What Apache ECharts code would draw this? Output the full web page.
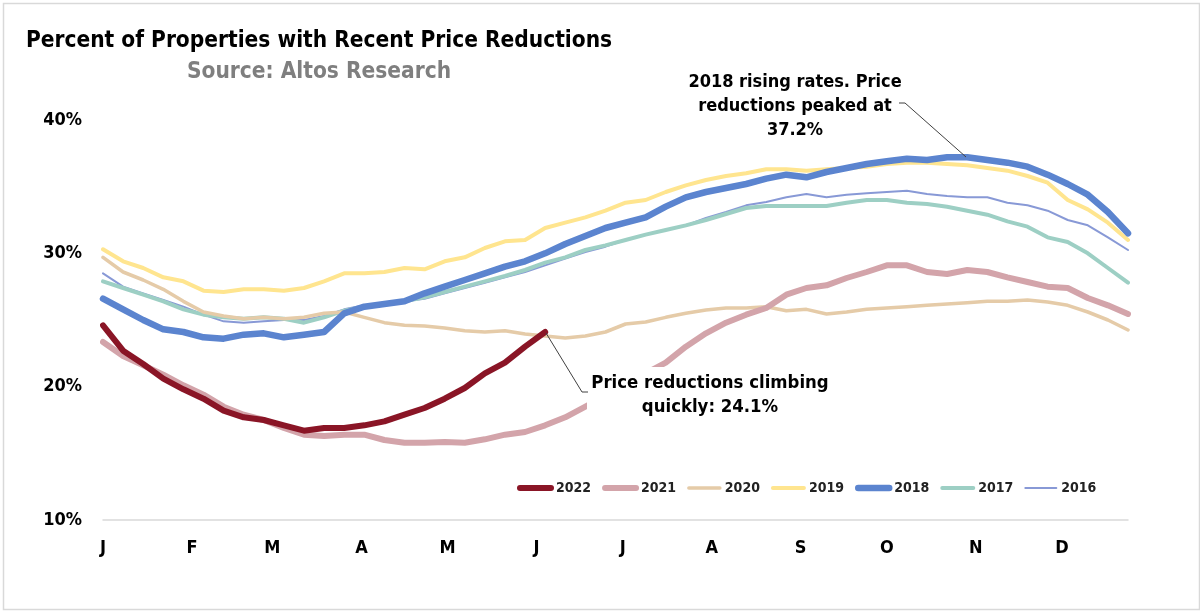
<!DOCTYPE html>
<html>
<head>
<meta charset="utf-8">
<script src="https://cdn.jsdelivr.net/npm/echarts@6/dist/echarts.min.js"></script>
<style>
  html, body { margin: 0; padding: 0; background: #fff; }
  #chart { width: 1200px; height: 611px; }
</style>
</head>
<body>
<div id="chart"></div>
<script>
// weekly values, week 0 = first week of January
const years = ['2022', '2021', '2020', '2019', '2018', '2017', '2016'];

const y2022 = [24.6, 22.7, 21.7, 20.6, 19.8, 19.1, 18.2, 17.7, 17.5, 17.1, 16.7, 16.9, 16.9, 17.1,
    17.4, 17.9, 18.4, 19.1, 19.9, 21.0, 21.8, 23.0, 24.1];
const y2021 = [23.35, 22.3, 21.6, 20.9, 20.1, 19.4, 18.5, 17.9, 17.5, 16.9, 16.4, 16.3, 16.4, 16.4,
    16.0, 15.8, 15.8, 15.85, 15.8, 16.05, 16.4, 16.6, 17.1, 17.7, 18.5, 19.3, 20.1, 21.0, 21.8,
    23.0, 24.0, 24.8, 25.4, 25.9, 26.9, 27.4, 27.6, 28.15, 28.6, 29.1, 29.1, 28.6, 28.45, 28.75,
    28.6, 28.2, 27.85, 27.5, 27.4, 26.65, 26.1, 25.45];
const y2020 = [29.7, 28.6, 28.0, 27.3, 26.4, 25.6, 25.3, 25.1, 25.2, 25.1, 25.2, 25.5, 25.6, 25.2,
    24.8, 24.6, 24.55, 24.4, 24.2, 24.1, 24.2, 23.95, 23.8, 23.65, 23.8, 24.1, 24.7, 24.85, 25.2,
    25.5, 25.75, 25.9, 25.9, 26.0, 25.7, 25.8, 25.45, 25.6, 25.8, 25.9, 26.0, 26.1, 26.2, 26.3,
    26.4, 26.4, 26.5, 26.35, 26.1, 25.6, 25.0, 24.25];
const y2019 = [30.3, 29.4, 28.9, 28.2, 27.9, 27.2, 27.1, 27.3, 27.3, 27.2, 27.4, 27.9, 28.5, 28.5,
    28.6, 28.9, 28.8, 29.4, 29.7, 30.4, 30.9, 31.0, 31.9, 32.3, 32.7, 33.2, 33.8, 34.0, 34.6,
    35.1, 35.5, 35.8, 36.0, 36.3, 36.3, 36.2, 36.3, 36.4, 36.5, 36.7, 36.8, 36.8, 36.7, 36.6,
    36.4, 36.2, 35.8, 35.3, 34.0, 33.3, 32.3, 31.0];
const y2018 = [26.6, 25.8, 25.0, 24.3, 24.1, 23.7, 23.6, 23.9, 24.0, 23.7, 23.9, 24.1, 25.5, 26.0,
    26.2, 26.4, 27.0, 27.5, 28.0, 28.5, 29.0, 29.4, 30.0, 30.7, 31.3, 31.9, 32.3, 32.7, 33.5,
    34.2, 34.6, 34.9, 35.2, 35.6, 35.9, 35.7, 36.1, 36.4, 36.7, 36.9, 37.1, 37.0, 37.2, 37.2,
    37.0, 36.8, 36.5, 35.9, 35.2, 34.4, 33.1, 31.5];
const y2017 = [27.9, 27.4, 26.9, 26.4, 25.8, 25.4, 25.2, 25.1, 25.2, 25.1, 24.8, 25.2, 25.7, 26.0,
    26.2, 26.4, 26.7, 27.1, 27.5, 27.9, 28.3, 28.75, 29.3, 29.7, 30.25, 30.6, 31.0, 31.4, 31.75,
    32.1, 32.5, 32.95, 33.4, 33.55, 33.55, 33.55, 33.55, 33.8, 34.0, 34.0, 33.8, 33.7, 33.5, 33.2,
    32.9, 32.4, 32.0, 31.2, 30.85, 30.0, 28.9, 27.8];
const y2016 = [28.5, 27.5, 27.0, 26.5, 26.0, 25.4, 24.9, 24.8, 24.9, 25.0, 25.0, 25.3, 25.8, 26.1,
    26.2, 26.4, 26.6, 27.0, 27.4, 27.8, 28.2, 28.6, 29.1, 29.6, 30.1, 30.5, 31.0, 31.4, 31.75,
    32.1, 32.65, 33.1, 33.6, 33.85, 34.2, 34.45, 34.2, 34.4, 34.5, 34.6, 34.7, 34.45, 34.3, 34.2,
    34.2, 33.8, 33.6, 33.2, 32.5, 32.1, 31.2, 30.25];

// month starts in weeks and their labels
const monthWeeks = [0, 4.43, 8.43, 12.86, 17.14, 21.57, 25.86, 30.29, 34.71, 39, 43.43, 47.71];
const monthLabels = ['J', 'F', 'M', 'A', 'M', 'J', 'J', 'A', 'S', 'O', 'N', 'D'];
const yTicks = [10, 20, 30, 40];

const FONT = "'Liberation Sans Narrow', 'DejaVu Sans Condensed', 'Liberation Sans', sans-serif";

function pts(arr) {
    return arr.map((v, i) => [i, v]);
}

const styles = {
    '2022': { color: '#8a1526', width: 6 },
    '2021': { color: '#d3a4aa', width: 6 },
    '2020': { color: '#e5cba8', width: 3.5 },
    '2019': { color: '#ffe58f', width: 4 },
    '2018': { color: '#5b84cf', width: 6.5 },
    '2017': { color: '#9dcfc4', width: 4 },
    '2016': { color: '#8899d6', width: 2 }
};
const values = { '2022': y2022, '2021': y2021, '2020': y2020, '2019': y2019,
    '2018': y2018, '2017': y2017, '2016': y2016 };

// drawing order, last on top
const drawOrder = ['2016', '2017', '2019', '2020', '2018', '2021', '2022'];

const series = drawOrder.map(name => ({
    name: name,
    type: 'line',
    data: pts(values[name]),
    symbol: 'none',
    smooth: false,
    color: styles[name].color,
    lineStyle: { color: styles[name].color, width: styles[name].width, cap: 'round', join: 'round' },
    emphasis: { disabled: true },
    animation: false
}));

var myChart = echarts.init(document.getElementById('chart'));

var option = {
    backgroundColor: '#fff',
    animation: false,
    title: [{
        text: 'Percent of Properties with Recent Price Reductions',
        left: 314, top: 25, textAlign: 'center',
        textStyle: { fontFamily: FONT, fontSize: 22.5, fontWeight: 'bold', color: '#000' }
    }, {
        text: 'Source: Altos Research',
        left: 314, top: 56, textAlign: 'center',
        textStyle: { fontFamily: FONT, fontSize: 22.5, fontWeight: 'bold', color: '#7f7f7f' }
    }],
    grid: { left: 103, right: 72, top: 120, bottom: 91 },
    legend: {
        data: years,
        left: 512, top: 476,
        itemWidth: 31, itemHeight: 12, itemGap: 11,
        selectedMode: false,
        lineStyle: { width: 'inherit' },
        itemStyle: { opacity: 0 },
        textStyle: { fontFamily: FONT, fontSize: 14, fontWeight: 'bold', color: '#222' }
    },
    xAxis: {
        type: 'value',
        min: 0, max: 51,
        splitLine: { show: false },
        axisTick: { show: false },
        axisLine: { show: true, lineStyle: { color: '#d9d9d9', width: 1.5 } },
        axisLabel: {
            customValues: monthWeeks,
            margin: 19,
            fontFamily: FONT, fontSize: 18, fontWeight: 'bold', color: '#000',
            formatter: function (v) {
                const k = monthWeeks.findIndex(m => Math.abs(m - v) < 0.01);
                return k >= 0 ? monthLabels[k] : '';
            }
        }
    },
    yAxis: {
        type: 'value',
        min: yTicks[0], max: yTicks[yTicks.length - 1], interval: 10,
        splitLine: { show: false },
        axisLine: { show: false },
        axisTick: { show: false },
        axisLabel: {
            margin: 21,
            fontFamily: FONT, fontSize: 18, fontWeight: 'bold', color: '#000',
            formatter: '{value}%'
        }
    },
    series: series,
    graphic: [
        // outer frame
        { type: 'rect', left: 1, top: 1, z: 0, silent: true,
          shape: { width: 1196, height: 606 },
          style: { fill: 'none', stroke: '#d9d9d9', lineWidth: 1.5 } },
        // 2018 note
        { type: 'text', z: 100, silent: true,
          style: {
              text: '2018 rising rates. Price\nreductions peaked at\n37.2%',
              x: 795, y: 70, align: 'center', lineHeight: 24,
              font: 'bold 18px ' + FONT, fill: '#000'
          } },
        { type: 'polyline', z: 100, silent: true,
          shape: { points: [[899, 103], [905, 103], [966, 157]] },
          style: { stroke: '#404040', lineWidth: 1, fill: 'none' } },
        // 2022 note, white box hides the lines behind it
        { type: 'rect', z: 100, silent: true,
          shape: { x: 587, y: 367, width: 248, height: 54 },
          style: { fill: '#fff' } },
        { type: 'text', z: 101, silent: true,
          style: {
              text: 'Price reductions climbing\nquickly: 24.1%',
              x: 710, y: 371, align: 'center', lineHeight: 24,
              font: 'bold 18.4px ' + FONT, fill: '#000'
          } },
        { type: 'polyline', z: 101, silent: true,
          shape: { points: [[546, 333], [582, 392], [588, 392]] },
          style: { stroke: '#404040', lineWidth: 1, fill: 'none' } }
    ]
};

myChart.setOption(option);
window.addEventListener('resize', function () {
    myChart.resize();
});
</script>
</body>
</html>
